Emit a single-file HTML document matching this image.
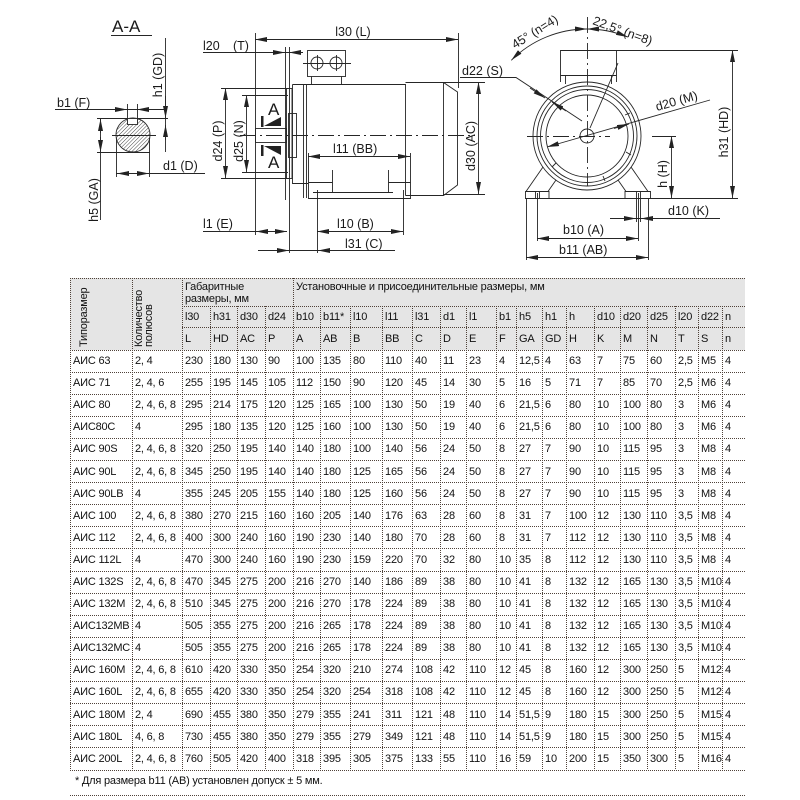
<!DOCTYPE html>
<html><head><meta charset="utf-8">
<style>
html,body{margin:0;padding:0;background:#fff;width:800px;height:800px;overflow:hidden}
svg{position:absolute;left:0;top:0}
table{position:absolute;left:70px;top:278px;width:675px;border-collapse:collapse;table-layout:fixed;font-family:"Liberation Sans","DejaVu Sans",sans-serif;font-size:11px;color:#111;letter-spacing:-0.2px}
td{padding:0 0 0 3px;white-space:nowrap;overflow:hidden;vertical-align:middle;line-height:12px;height:22.1px}
tr.r1 td{vertical-align:top;padding-top:3px;height:25px}
tr.r2 td{height:21px}
tr.r3 td{height:23px}
</style></head><body>
<svg width="800" height="800" viewBox="0 0 800 800" font-family="Liberation Sans, DejaVu Sans, sans-serif">
<defs>
<marker id="a" viewBox="0 0 12 5" refX="12" refY="2.5" markerWidth="12" markerHeight="5" markerUnits="userSpaceOnUse" orient="auto-start-reverse"><path d="M0,0L12,2.5L0,5z" fill="#222"/></marker>
<pattern id="h" width="2.6" height="2.6" patternUnits="userSpaceOnUse" patternTransform="rotate(45)"><line x1="0" y1="0" x2="0" y2="2.6" stroke="#333" stroke-width="0.9"/></pattern>
</defs>

<!-- TABLE BACKGROUND & GRID -->
<rect x="70" y="278" width="675" height="72" fill="#e5e5e5"/>
<g stroke="#4f4239" stroke-width="1" stroke-dasharray="1 1" fill="none">
<path d="M70,278.5H745M182,306.5H745M182,327.5H745M70,350.5H745"/>
<path d="M70,372.5H745M70,394.5H745M70,416.5H745M70,438.5H745M70,460.5H745M70,482.5H745M70,504.5H745M70,526.5H745M70,548.5H745M70,571.5H745M70,593.5H745M70,615.5H745M70,637.5H745M70,659.5H745M70,681.5H745M70,703.5H745M70,725.5H745M70,747.5H745M70,770.5H745M70,795.5H745"/>
<path d="M70.5,278V770M132.5,278V770M182.5,278V770M293.5,278V770"/>
<path d="M210.5,306V770M237.5,306V770M265.5,306V770M320.5,306V770M350.5,306V770M382.5,306V770M412.5,306V770M440.5,306V770M466.5,306V770M496.5,306V770M516.5,306V770M542.5,306V770M566.5,306V770M594.5,306V770M620.5,306V770M647.5,306V770M675.5,306V770M698.5,306V770M722.5,306V770"/>
</g>
<g font-size="11" fill="#111" letter-spacing="-0.2">
<text transform="translate(87,347) rotate(-90)">Типоразмер</text>
<text transform="translate(142,347) rotate(-90)">Количество</text>
<text transform="translate(152,347) rotate(-90)">полюсов</text>
<text x="75" y="784">* Для размера b11 (AB) установлен допуск ± 5 мм.</text>
</g>

<!-- DRAWINGS -->
<g stroke="#262626" stroke-width="0.9" fill="none">
<!-- A-A section -->
<path d="M111,35.5H152"/>
<path d="M165.5,38V152"/>
<path d="M55,109.5H165"/>
<path d="M113,109.5H127" marker-end="url(#a)"/>
<path d="M151,109.5H137" marker-end="url(#a)"/>
<path d="M127.5,104V124M137.5,104V124"/>
<path d="M97,118.5H168M97,152.5H150"/>
<circle cx="133" cy="135" r="17" fill="url(#h)"/>
<rect x="127.5" y="118.5" width="10" height="6" fill="#fff"/>
<path d="M112,135.5H156"/>
<path d="M165.5,96V118" marker-end="url(#a)"/>
<path d="M165.5,140V125" marker-end="url(#a)"/>
<path d="M100.5,118V220"/>
<path d="M100.5,133V119" marker-end="url(#a)"/>
<path d="M100.5,137V152" marker-end="url(#a)"/>
<path d="M116.5,138V177M149.5,138V177"/>
<path d="M116,173.5H205"/>
<path d="M131,173.5H117" marker-end="url(#a)"/>
<path d="M134,173.5H149" marker-end="url(#a)"/>

<!-- side view -->
<path d="M203,52.5H303"/>
<path d="M271,52.5H285" marker-end="url(#a)"/>
<path d="M303,52.5H289" marker-end="url(#a)"/>
<path d="M285.5,47V200M289.5,47V253"/>
<path d="M255,39.5H458" marker-start="url(#a)" marker-end="url(#a)"/>
<path d="M255.5,33V235M458.5,33V88"/>
<rect x="307.5" y="50.5" width="38" height="26"/>
<path d="M311.5,76.5V84M341.5,76.5V84"/>
<circle cx="317" cy="63" r="6"/><circle cx="336" cy="63" r="6"/>
<path d="M303,63.5H351M317.5,55V71M336.5,55V71"/>
<rect x="286.5" y="88.5" width="5.5" height="90"/>
<rect x="288.5" y="113.5" width="8" height="44"/>
<path d="M292.5,84.5H405.5V195.5M292.5,84.5V183.5H308"/>
<path d="M303.5,84.5V198M306.5,84.5V198"/>
<path d="M405.5,82.5H443.5L457.5,92V185L443.5,195.5H405.5"/>
<path d="M443.5,82.5V195.5"/>
<path d="M308.5,153V198.5H410.5V153M308.5,182.5H332.5V192.5M410.5,182.5H388.5V192.5M313,192.5H393M332.5,170V183M388.5,170V183"/>
<path d="M317.5,190V253M403.5,190V235"/>
<path d="M240,135.5H475" stroke-dasharray="16 4 2 4"/>
<rect x="255.5" y="128.5" width="31" height="14"/>
<path d="M225.5,88V178" marker-start="url(#a)" marker-end="url(#a)"/>
<path d="M221,88.5H290M221,178.5H290"/>
<path d="M246.5,95V172" marker-start="url(#a)" marker-end="url(#a)"/>
<path d="M242,95.5H288M242,172.5H288"/>
<path d="M460,77.5H516L582,121"/>
<path d="M530,88L545,98" marker-end="url(#a)"/>
<path d="M566,111L552,102" marker-end="url(#a)"/>
<path d="M478.5,82V194" marker-start="url(#a)" marker-end="url(#a)"/>
<path d="M443,82.5H485M443,194.5H485"/>
<path d="M308,156.5H410" marker-start="url(#a)" marker-end="url(#a)"/>
<path d="M203,231.5H287"/>
<path d="M270,231.5H256" marker-end="url(#a)"/>
<path d="M273,231.5H287" marker-end="url(#a)"/>
<path d="M317,231.5H403" marker-start="url(#a)" marker-end="url(#a)"/>
<path d="M258,250.5H395"/>
<path d="M273,250.5H289" marker-end="url(#a)"/>
<path d="M333,250.5H318" marker-end="url(#a)"/>

<!-- end view -->
<circle cx="587" cy="136" r="54"/>
<circle cx="587" cy="136" r="50"/>
<circle cx="587" cy="136" r="46.5"/>
<circle cx="587" cy="136" r="41"/>
<circle cx="587" cy="136" r="7"/>
<path d="M527,136.5H610M587.5,17V186" stroke-dasharray="16 4 2 4"/>
<path d="M560.5,82V50.5H616.5V82M560.5,75.5H616.5M565.5,75.5V84M611.5,75.5V84"/>
<path d="M543,167L526,191.5M556,180L548,191.5M631,167L648,191.5M618,180L626,191.5"/>
<path d="M525.5,191.5H549V198.5H525.5ZM625,191.5H650.5V198.5H625Z"/>
<path d="M535.5,191V198M539.5,191V198M636.5,191V222M640.5,191V222"/>
<path d="M525,198.5H738"/>
<path d="M732.5,50V198" marker-start="url(#a)" marker-end="url(#a)"/>
<path d="M616,50.5H738"/>
<path d="M671.5,136V198" marker-start="url(#a)" marker-end="url(#a)"/>
<path d="M652,136.5H676"/>
<path d="M610,218.5H720"/>
<path d="M622,218.5H636" marker-end="url(#a)"/>
<path d="M655,218.5H641" marker-end="url(#a)"/>
<path d="M537,238.5H638" marker-start="url(#a)" marker-end="url(#a)"/>
<path d="M537.5,193V241M638.5,193V241"/>
<path d="M526,257.5H648" marker-start="url(#a)" marker-end="url(#a)"/>
<path d="M526.5,198V260M648.5,198V260"/>
<path d="M511.3,60.3A107,107 0 0 1 587,29" marker-start="url(#a)" marker-end="url(#a)"/>
<path d="M587,29A107,107 0 0 1 627.9,37.1" marker-start="url(#a)" marker-end="url(#a)"/>
<path d="M590,128L618,63"/>
<path d="M547,147L710,100" marker-start="url(#a)"/>
<path d="M614,128.5L629,124" marker-end="url(#a)"/>
<path d="M625,115l5,-2M626,152l5,3M603,176l2,5M556,163l-4,4"/>
</g>

<!-- A markers -->
<g fill="#222">
<rect x="261" y="116" width="2.5" height="11"/>
<path d="M264,126L281,117V126Z"/>
<rect x="261" y="145" width="2.5" height="11"/>
<path d="M264,146L281,146V155Z"/>
</g>

<g font-size="12.5" fill="#1a1a1a">
<text x="112" y="32" font-size="17">A-A</text>
<text x="57" y="107">b1 (F)</text>
<text x="163" y="170">d1 (D)</text>
<text transform="translate(162,75) rotate(-90)" text-anchor="middle">h1 (GD)</text>
<text transform="translate(98,200) rotate(-90)" text-anchor="middle">h5 (GA)</text>
<text x="203" y="50">l20</text>
<text x="233" y="50">(T)</text>
<text x="353" y="36" text-anchor="middle">l30 (L)</text>
<text x="462" y="75">d22 (S)</text>
<text x="333" y="153">l11 (BB)</text>
<text x="203" y="228">l1 (E)</text>
<text x="337" y="228">l10 (B)</text>
<text x="345" y="248">l31 (C)</text>
<text transform="translate(222,141) rotate(-90)" text-anchor="middle">d24 (P)</text>
<text transform="translate(243,141) rotate(-90)" text-anchor="middle">d25 (N)</text>
<text transform="translate(475,146) rotate(-90)" text-anchor="middle">d30 (AC)</text>
<text x="268" y="115" font-size="17">A</text>
<text x="268" y="168" font-size="17">A</text>
<text transform="translate(515,49) rotate(-32)">45° (n=4)</text>
<text transform="translate(592,24) rotate(20)">22,5° (n=8)</text>
<text transform="translate(657,111) rotate(-16)">d20 (M)</text>
<text transform="translate(728,132) rotate(-90)" text-anchor="middle">h31 (HD)</text>
<text transform="translate(667,174) rotate(-90)" text-anchor="middle">h (H)</text>
<text x="668" y="215">d10 (K)</text>
<text x="563" y="234">b10 (A)</text>
<text x="559" y="254">b11 (AB)</text>
</g>
</svg>

<table>
<colgroup>
<col style="width:62px"><col style="width:50px"><col style="width:28px"><col style="width:27px"><col style="width:28px"><col style="width:28px"><col style="width:27px"><col style="width:30px"><col style="width:32px"><col style="width:30px"><col style="width:28px"><col style="width:26px"><col style="width:30px"><col style="width:20px"><col style="width:26px"><col style="width:24px"><col style="width:28px"><col style="width:26px"><col style="width:27px"><col style="width:28px"><col style="width:23px"><col style="width:24px"><col style="width:23px">
</colgroup>
<tr class="r1"><td rowspan="3"></td><td rowspan="3"></td><td colspan="4">Габаритные<br>размеры, мм</td><td colspan="17">Установочные и присоединительные размеры, мм</td></tr>
<tr class="r2"><td>l30</td><td>h31</td><td>d30</td><td>d24</td><td>b10</td><td>b11*</td><td>l10</td><td>l11</td><td>l31</td><td>d1</td><td>l1</td><td>b1</td><td>h5</td><td>h1</td><td>h</td><td>d10</td><td>d20</td><td>d25</td><td>l20</td><td>d22</td><td>n</td></tr>
<tr class="r3"><td>L</td><td>HD</td><td>AC</td><td>P</td><td>A</td><td>AB</td><td>B</td><td>BB</td><td>C</td><td>D</td><td>E</td><td>F</td><td>GA</td><td>GD</td><td>H</td><td>K</td><td>M</td><td>N</td><td>T</td><td>S</td><td>n</td></tr>
<tr><td>АИС 63</td><td>2, 4</td><td>230</td><td>180</td><td>130</td><td>90</td><td>100</td><td>135</td><td>80</td><td>110</td><td>40</td><td>11</td><td>23</td><td>4</td><td>12,5</td><td>4</td><td>63</td><td>7</td><td>75</td><td>60</td><td>2,5</td><td>M5</td><td>4</td></tr>
<tr><td>АИС 71</td><td>2, 4, 6</td><td>255</td><td>195</td><td>145</td><td>105</td><td>112</td><td>150</td><td>90</td><td>120</td><td>45</td><td>14</td><td>30</td><td>5</td><td>16</td><td>5</td><td>71</td><td>7</td><td>85</td><td>70</td><td>2,5</td><td>M6</td><td>4</td></tr>
<tr><td>АИС 80</td><td>2, 4, 6, 8</td><td>295</td><td>214</td><td>175</td><td>120</td><td>125</td><td>165</td><td>100</td><td>130</td><td>50</td><td>19</td><td>40</td><td>6</td><td>21,5</td><td>6</td><td>80</td><td>10</td><td>100</td><td>80</td><td>3</td><td>M6</td><td>4</td></tr>
<tr><td>АИС80С</td><td>4</td><td>295</td><td>180</td><td>135</td><td>120</td><td>125</td><td>160</td><td>100</td><td>130</td><td>50</td><td>19</td><td>40</td><td>6</td><td>21,5</td><td>6</td><td>80</td><td>10</td><td>100</td><td>80</td><td>3</td><td>M6</td><td>4</td></tr>
<tr><td>АИС 90S</td><td>2, 4, 6, 8</td><td>320</td><td>250</td><td>195</td><td>140</td><td>140</td><td>180</td><td>100</td><td>140</td><td>56</td><td>24</td><td>50</td><td>8</td><td>27</td><td>7</td><td>90</td><td>10</td><td>115</td><td>95</td><td>3</td><td>M8</td><td>4</td></tr>
<tr><td>АИС 90L</td><td>2, 4, 6, 8</td><td>345</td><td>250</td><td>195</td><td>140</td><td>140</td><td>180</td><td>125</td><td>165</td><td>56</td><td>24</td><td>50</td><td>8</td><td>27</td><td>7</td><td>90</td><td>10</td><td>115</td><td>95</td><td>3</td><td>M8</td><td>4</td></tr>
<tr><td>АИС 90LB</td><td>4</td><td>355</td><td>245</td><td>205</td><td>155</td><td>140</td><td>180</td><td>125</td><td>160</td><td>56</td><td>24</td><td>50</td><td>8</td><td>27</td><td>7</td><td>90</td><td>10</td><td>115</td><td>95</td><td>3</td><td>M8</td><td>4</td></tr>
<tr><td>АИС 100</td><td>2, 4, 6, 8</td><td>380</td><td>270</td><td>215</td><td>160</td><td>160</td><td>205</td><td>140</td><td>176</td><td>63</td><td>28</td><td>60</td><td>8</td><td>31</td><td>7</td><td>100</td><td>12</td><td>130</td><td>110</td><td>3,5</td><td>M8</td><td>4</td></tr>
<tr><td>АИС 112</td><td>2, 4, 6, 8</td><td>400</td><td>300</td><td>240</td><td>160</td><td>190</td><td>230</td><td>140</td><td>180</td><td>70</td><td>28</td><td>60</td><td>8</td><td>31</td><td>7</td><td>112</td><td>12</td><td>130</td><td>110</td><td>3,5</td><td>M8</td><td>4</td></tr>
<tr><td>АИС 112L</td><td>4</td><td>470</td><td>300</td><td>240</td><td>160</td><td>190</td><td>230</td><td>159</td><td>220</td><td>70</td><td>32</td><td>80</td><td>10</td><td>35</td><td>8</td><td>112</td><td>12</td><td>130</td><td>110</td><td>3,5</td><td>M8</td><td>4</td></tr>
<tr><td>АИС 132S</td><td>2, 4, 6, 8</td><td>470</td><td>345</td><td>275</td><td>200</td><td>216</td><td>270</td><td>140</td><td>186</td><td>89</td><td>38</td><td>80</td><td>10</td><td>41</td><td>8</td><td>132</td><td>12</td><td>165</td><td>130</td><td>3,5</td><td>M10</td><td>4</td></tr>
<tr><td>АИС 132M</td><td>2, 4, 6, 8</td><td>510</td><td>345</td><td>275</td><td>200</td><td>216</td><td>270</td><td>178</td><td>224</td><td>89</td><td>38</td><td>80</td><td>10</td><td>41</td><td>8</td><td>132</td><td>12</td><td>165</td><td>130</td><td>3,5</td><td>M10</td><td>4</td></tr>
<tr><td>АИС132MB</td><td>4</td><td>505</td><td>355</td><td>275</td><td>200</td><td>216</td><td>265</td><td>178</td><td>224</td><td>89</td><td>38</td><td>80</td><td>10</td><td>41</td><td>8</td><td>132</td><td>12</td><td>165</td><td>130</td><td>3,5</td><td>M10</td><td>4</td></tr>
<tr><td>АИС132MC</td><td>4</td><td>505</td><td>355</td><td>275</td><td>200</td><td>216</td><td>265</td><td>178</td><td>224</td><td>89</td><td>38</td><td>80</td><td>10</td><td>41</td><td>8</td><td>132</td><td>12</td><td>165</td><td>130</td><td>3,5</td><td>M10</td><td>4</td></tr>
<tr><td>АИС 160M</td><td>2, 4, 6, 8</td><td>610</td><td>420</td><td>330</td><td>350</td><td>254</td><td>320</td><td>210</td><td>274</td><td>108</td><td>42</td><td>110</td><td>12</td><td>45</td><td>8</td><td>160</td><td>12</td><td>300</td><td>250</td><td>5</td><td>M12</td><td>4</td></tr>
<tr><td>АИС 160L</td><td>2, 4, 6, 8</td><td>655</td><td>420</td><td>330</td><td>350</td><td>254</td><td>320</td><td>254</td><td>318</td><td>108</td><td>42</td><td>110</td><td>12</td><td>45</td><td>8</td><td>160</td><td>12</td><td>300</td><td>250</td><td>5</td><td>M12</td><td>4</td></tr>
<tr><td>АИС 180M</td><td>2, 4</td><td>690</td><td>455</td><td>380</td><td>350</td><td>279</td><td>355</td><td>241</td><td>311</td><td>121</td><td>48</td><td>110</td><td>14</td><td>51,5</td><td>9</td><td>180</td><td>15</td><td>300</td><td>250</td><td>5</td><td>M15</td><td>4</td></tr>
<tr><td>АИС 180L</td><td>4, 6, 8</td><td>730</td><td>455</td><td>380</td><td>350</td><td>279</td><td>355</td><td>279</td><td>349</td><td>121</td><td>48</td><td>110</td><td>14</td><td>51,5</td><td>9</td><td>180</td><td>15</td><td>300</td><td>250</td><td>5</td><td>M15</td><td>4</td></tr>
<tr><td>АИС 200L</td><td>2, 4, 6, 8</td><td>760</td><td>505</td><td>420</td><td>400</td><td>318</td><td>395</td><td>305</td><td>375</td><td>133</td><td>55</td><td>110</td><td>16</td><td>59</td><td>10</td><td>200</td><td>15</td><td>350</td><td>300</td><td>5</td><td>M16</td><td>4</td></tr>
</table>
</body></html>
